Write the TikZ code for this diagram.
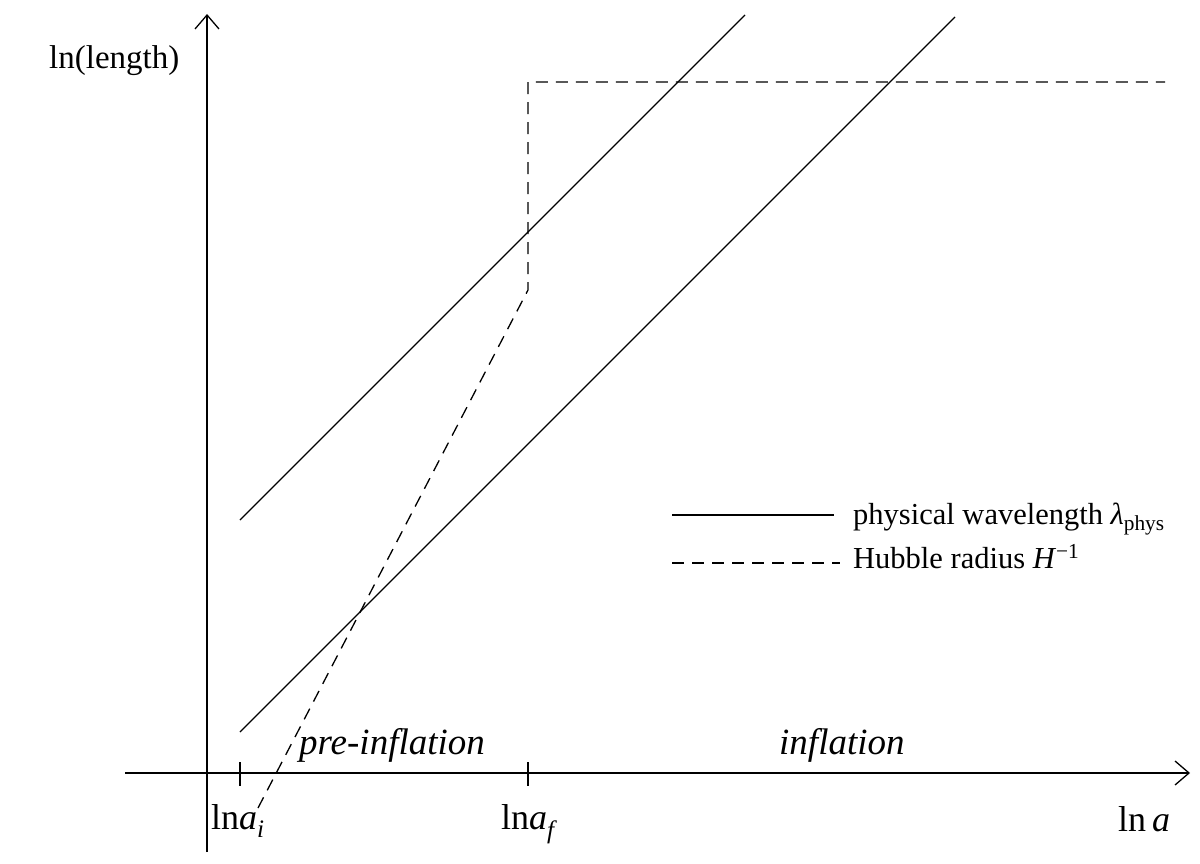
\documentclass[tikz,border=0pt]{standalone}
\usepackage{fontspec}
\setmainfont{Liberation Serif}
\usetikzlibrary{arrows.meta}
\begin{document}
\begin{tikzpicture}[x=1pt,y=-1pt,
  axis/.style={line width=1.3pt,-{Straight Barb[length=14pt,width=24pt]}},
  wave/.style={line width=1.1pt},
  hub/.style={line width=1.3pt,dash pattern=on 12pt off 8pt},
  lab/.style={inner sep=0pt,anchor=base west},
  tick/.style={line width=1.2pt}]
\useasboundingbox (0,0) rectangle (1200,864);
% axes
\coordinate (yb) at (207,852);
\coordinate (yt) at (207,14);
\coordinate (xl) at (125,773);
\coordinate (xr) at (1190,773);
\draw[axis] (yb) -- (yt);
\draw[axis] (xl) -- (xr);
% ticks
\coordinate (ti1) at (240,762); \coordinate (ti2) at (240,786);
\coordinate (tf1) at (528,762); \coordinate (tf2) at (528,786);
\draw[tick] (ti1) -- (ti2);
\draw[tick] (tf1) -- (tf2);
% physical wavelengths
\coordinate (w1a) at (240,520); \coordinate (w1b) at (745,15);
\coordinate (w2a) at (240,732); \coordinate (w2b) at (955,17);
\draw[wave] (w1a) -- (w1b);
\draw[wave] (w2a) -- (w2b);
% Hubble radius
\coordinate (h0) at (258,808);
\coordinate (h1) at (528,290);
\coordinate (h2) at (528,82);
\coordinate (h3) at (1165,82);
\draw[hub] (h0) -- (h1) -- (h2) -- (h3);
% legend
\coordinate (l1a) at (672,515); \coordinate (l1b) at (834,515);
\coordinate (l2a) at (672,563); \coordinate (l2b) at (840,563);
\draw[wave] (l1a) -- (l1b);
\draw[hub] (l2a) -- (l2b);
\node[lab,font=\fontsize{30.5}{34}\selectfont] (t1) at (853,524) {physical wavelength \textit{λ}\textsubscript{phys}};
\node[lab,font=\fontsize{30.5}{34}\selectfont] (t2) at (853,568) {Hubble radius \textit{H}\textsuperscript{−1}};
% labels
\node[lab,font=\fontsize{33}{38}\selectfont] (yl) at (49,69) {ln(length)};
\node[lab,font=\fontsize{36}{40}\selectfont] (ai) at (211,829) {ln\textit{a}\textsubscript{\textit{i}}};
\node[lab,font=\fontsize{36}{40}\selectfont] (af) at (501,829) {ln\textit{a}\textsubscript{\textit{f}}};
\node[lab,font=\fontsize{36}{40}\selectfont] (aa) at (1118,831) {ln\,\textit{a}};
\node[lab,font=\fontsize{37}{42}\selectfont\itshape] (pre) at (299,754) {pre-inflation};
\node[lab,font=\fontsize{37}{42}\selectfont\itshape] (inf) at (779,754) {inflation};
\end{tikzpicture}
\end{document}
